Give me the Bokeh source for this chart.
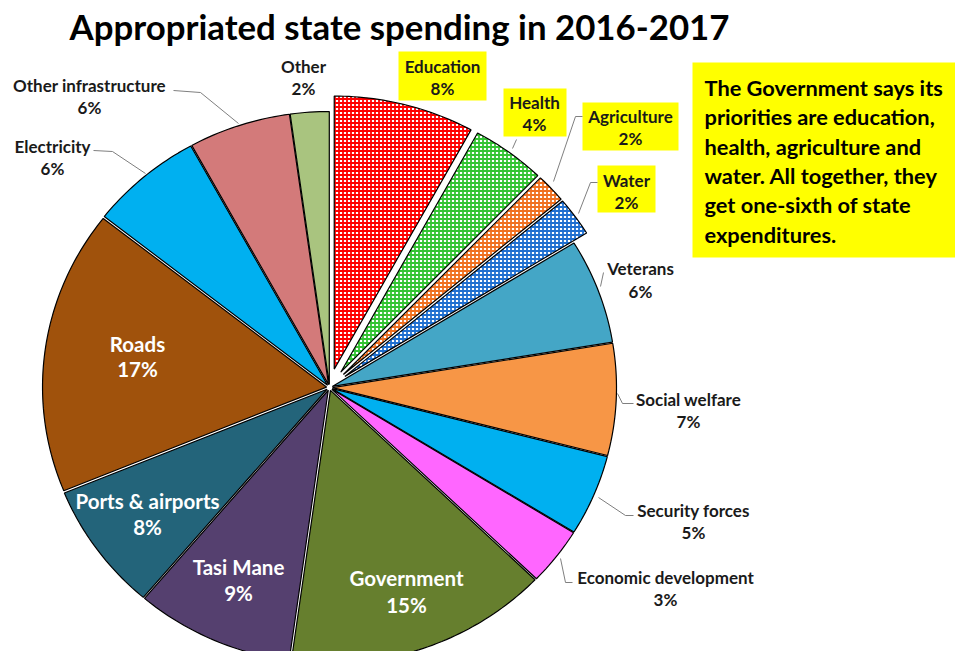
import numpy as np
from bokeh.plotting import figure
from bokeh.models import Range1d
from bokeh.embed import file_html
from bokeh.resources import INLINE
from bokeh.core.properties import value

# ---------------- data ----------------
categories = ["Education", "Health", "Agriculture", "Water", "Veterans",
              "Social welfare", "Security forces", "Economic development",
              "Government", "Tasi Mane", "Ports & airports", "Roads",
              "Electricity", "Other infrastructure", "Other"]
shares = [8.0, 4.2, 1.7, 2.3, 6.2, 6.6, 4.8, 3.4, 15.0, 9.0, 7.6, 16.8, 6.4, 5.8, 2.2]
priority = ["Education", "Health", "Agriculture", "Water"]
title_text = "Appropriated state spending in 2016-2017"
note_lines = ["The Government says its", "priorities are education,",
              "health, agriculture and", "water. All together, they",
              "get one-sixth of state", "expenditures."]

# ---------------- styles ----------------
colors = ["#FF0000", "#33C433", "#F07020", "#1F6FD0", "#44A6C6", "#F79646",
          "#00B0F0", "#FF66FF", "#667F2E", "#55406F", "#23647A", "#A0520C",
          "#00B0F0", "#D37A7A", "#A9C47F"]
FONT = value("Lato")

W, H = 955, 651
p = figure(width=W, height=H, x_range=Range1d(0, W), y_range=Range1d(H, 0),
           output_backend="svg", toolbar_location=None, min_border=0,
           x_axis_type=None, y_axis_type=None)
p.grid.visible = False
p.outline_line_color = None
p.background_fill_color = "white"

# ---------------- pie (ellipse in screen px) ----------------
cx, cy, rx, ry = 329, 387, 284, 273
vals = np.array(shares, dtype=float)
ends = np.cumsum(vals) / vals.sum() * 2 * np.pi
starts = np.concatenate([[0.0], ends[:-1]])

norm = dict(xs=[], ys=[], c=[])
hat = dict(xs=[], ys=[], c=[])
for cat, a0, a1, col in zip(categories, starts, ends, colors):
    m = (a0 + a1) / 2
    d = 19 if cat in priority else 3
    ox, oy = d * np.sin(m), -d * np.cos(m)
    t = np.linspace(a0, a1, max(3, int(np.degrees(a1 - a0)) + 2))
    xs = [cx + ox] + list(cx + ox + rx * np.sin(t))
    ys = [cy + oy] + list(cy + oy - ry * np.cos(t))
    tgt = hat if cat in priority else norm
    tgt["xs"].append(xs)
    tgt["ys"].append(ys)
    tgt["c"].append(col)

p.patches("xs", "ys", source=norm, fill_color="c", line_color="black", line_width=1.2)
p.patches("xs", "ys", source=hat, fill_color="white", hatch_pattern="cross",
          hatch_color="c", hatch_scale=4, hatch_weight=1.8,
          line_color="black", line_width=1.2)

# ---------------- label layout ----------------
pct = {c: "%d%%" % int(v + 0.5) for c, v in zip(categories, shares)}
inside = {"Roads": (137, 343, 368), "Ports & airports": (147, 500, 526),
          "Tasi Mane": (238, 566, 592), "Government": (406, 577, 604)}
outside = {"Education": (442, 66, 88), "Health": (534, 102, 124),
           "Agriculture": (630, 116, 138), "Water": (626, 180, 202),
           "Veterans": (640, 268, 291), "Social welfare": (688, 399, 421),
           "Security forces": (693, 510, 532), "Economic development": (665, 577, 599),
           "Other": (303, 66, 88), "Other infrastructure": (89, 85, 107),
           "Electricity": (52, 146, 168)}
boxes = {"Education": (398, 486, 51, 100), "Health": (503, 566, 88, 136),
         "Agriculture": (582, 678, 102, 150), "Water": (597, 655, 165, 212)}

bl, br, bt, bb = zip(*boxes.values())
p.quad(left=list(bl), right=list(br), top=list(bt), bottom=list(bb),
       fill_color="#FFFF00", line_color=None)
p.quad(left=[692], right=[975], top=[62], bottom=[257], fill_color="#FFFF00", line_color=None)

leaders_x = [[173, 200, 238], [93, 112, 145], [516, 512], [582, 575, 553],
             [597, 590, 578], [603, 600], [633, 622, 617], [633, 625, 598],
             [572, 565, 560]]
leaders_y = [[90, 92, 123], [150, 151, 173], [139, 148], [116, 116, 181],
             [182, 182, 213], [272, 286], [403, 403, 393], [515, 515, 497],
             [582, 582, 558]]
p.multi_line(leaders_x, leaders_y, line_color="#7F7F7F", line_width=1)

for cat, (x, y1, y2) in inside.items():
    p.text([x, x], [y1, y2], text=[cat, pct[cat]], text_color="white", text_font=FONT,
           text_font_style="bold", text_font_size="20.5px", text_align="center",
           text_baseline="middle")
for cat, (x, y1, y2) in outside.items():
    p.text([x, x], [y1, y2], text=[cat, pct[cat]], text_color="#1A1A1A", text_font=FONT,
           text_font_style="bold", text_font_size="17px", text_align="center",
           text_baseline="middle")

p.text([399], [26], text=[title_text], text_color="black", text_font=FONT,
       text_font_style="bold", text_font_size="34.8px", text_align="center",
       text_baseline="middle")
p.text([704] * len(note_lines), [87 + 29.3 * i for i in range(len(note_lines))],
       text=note_lines, text_color="black", text_font=FONT, text_font_style="bold",
       text_font_size="21.8px", text_align="left", text_baseline="middle")

open("out.html", "w").write(file_html(p, INLINE))
